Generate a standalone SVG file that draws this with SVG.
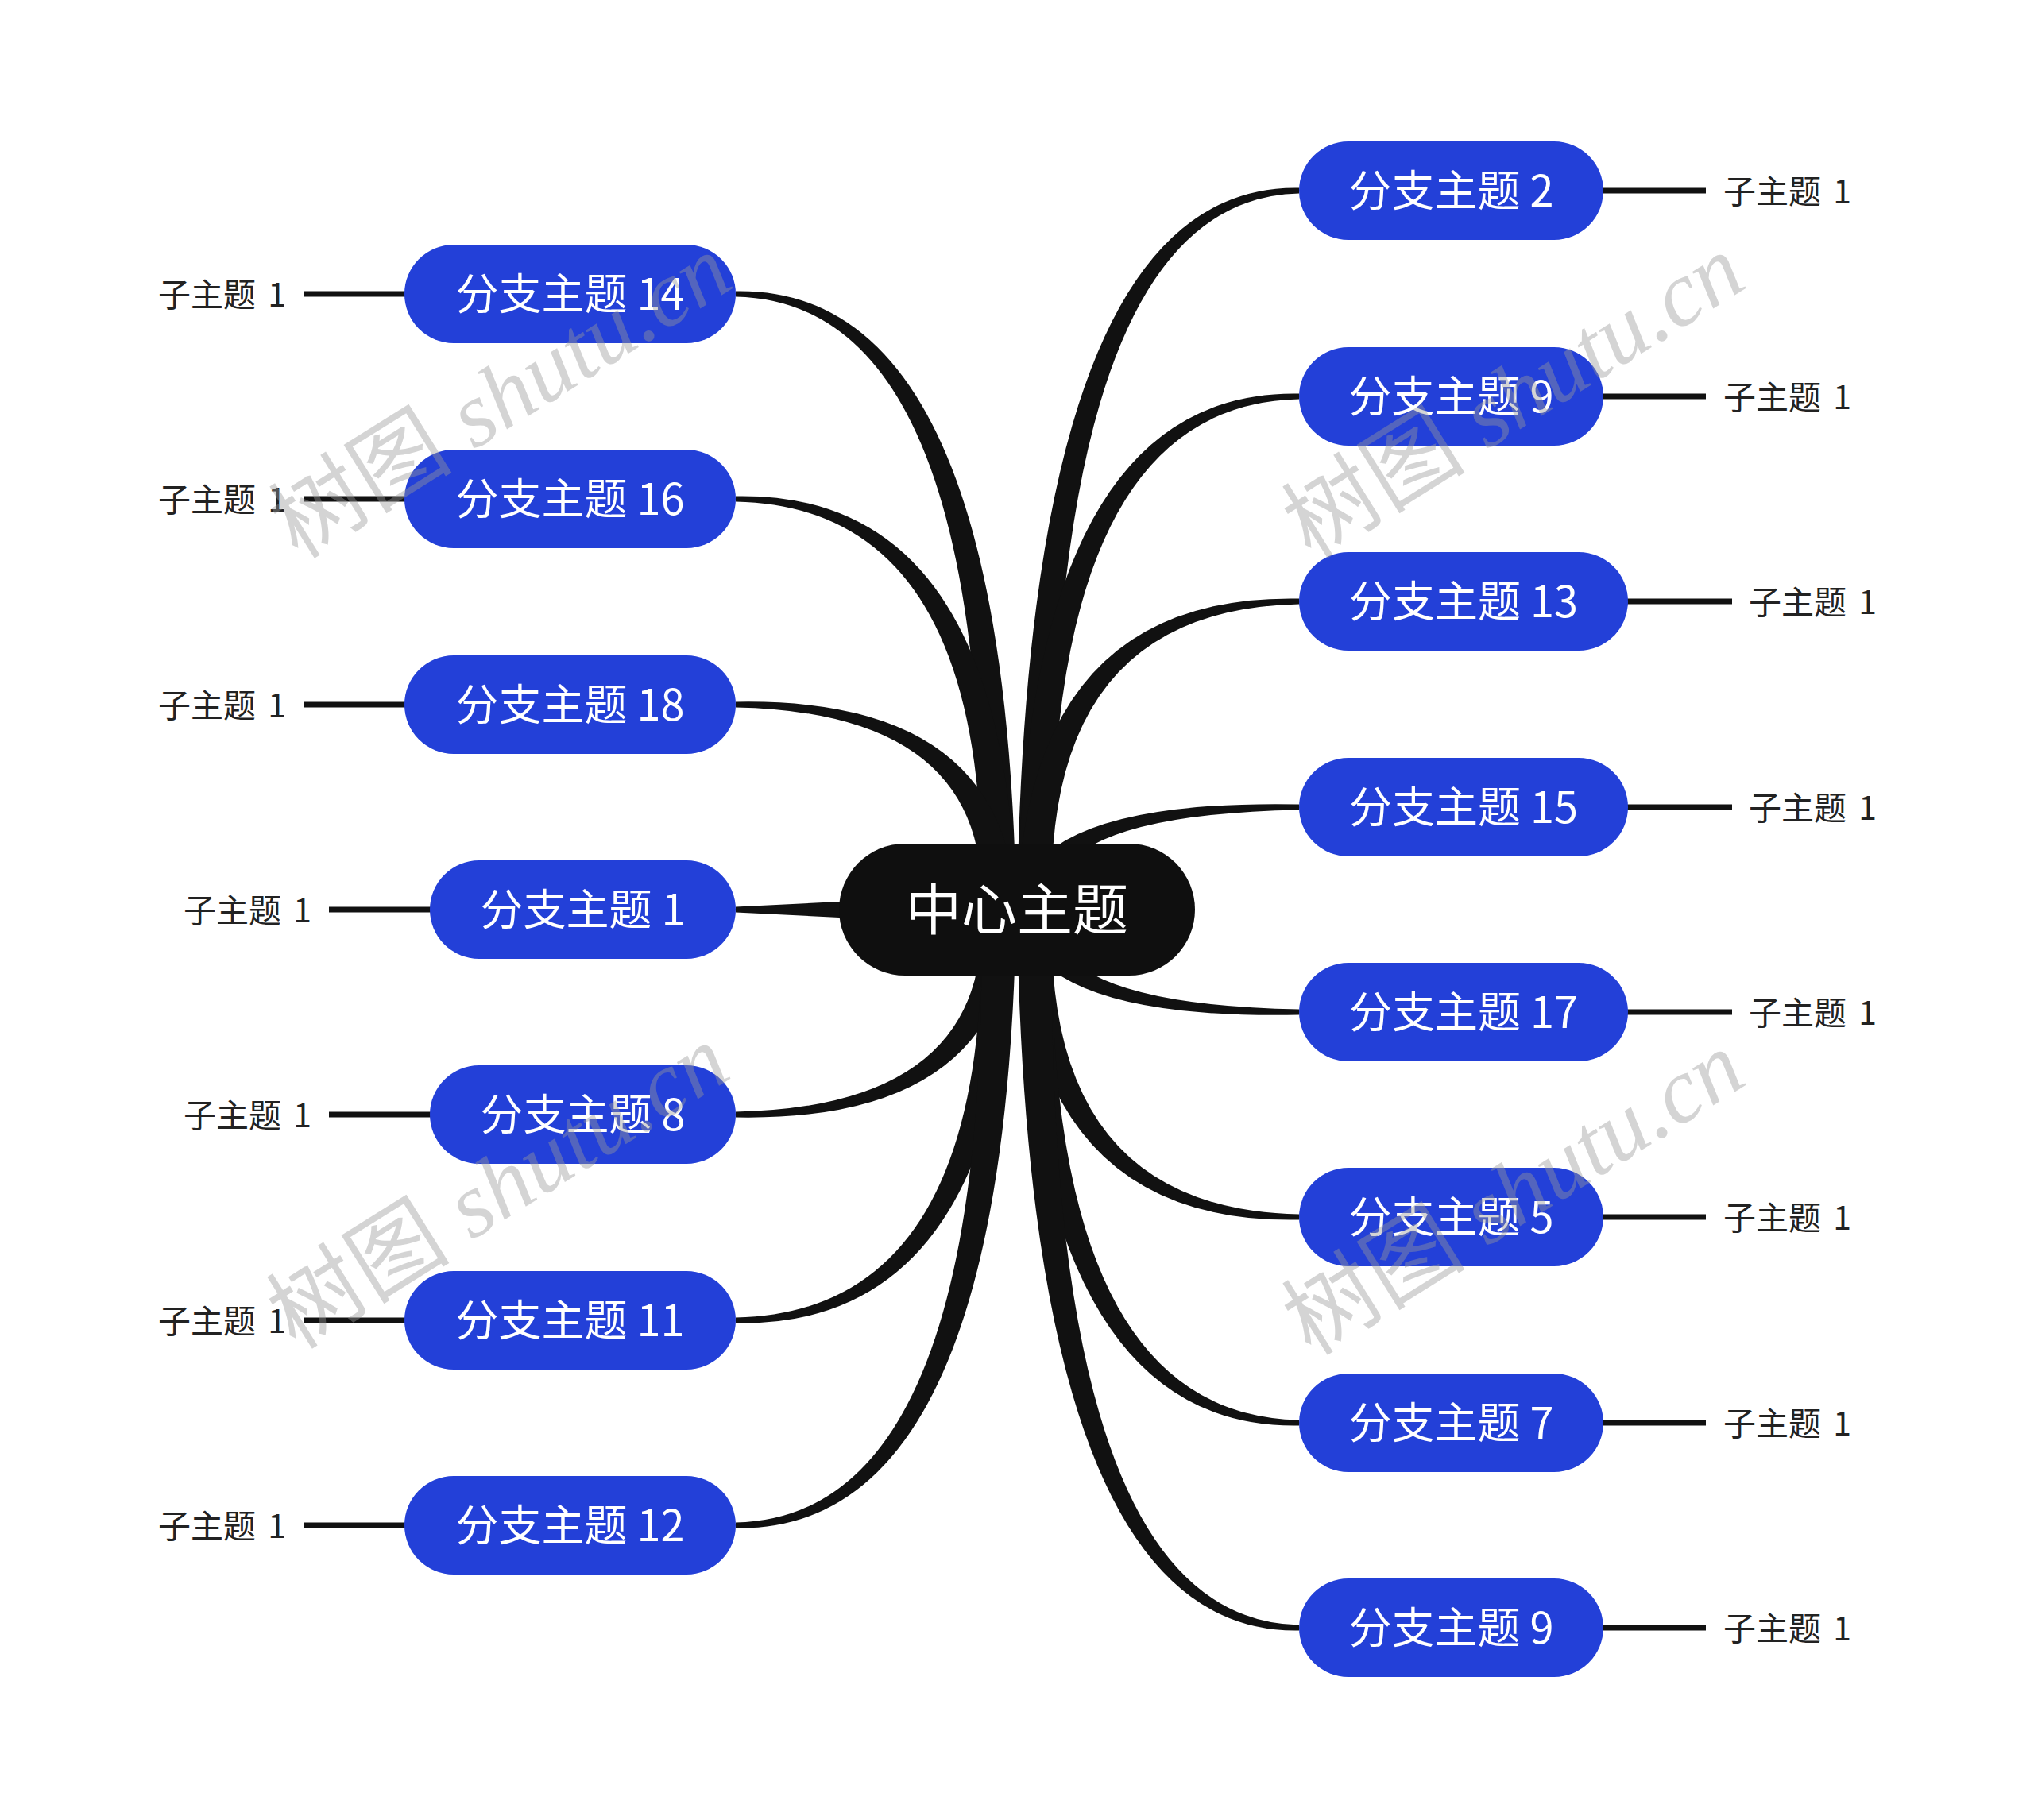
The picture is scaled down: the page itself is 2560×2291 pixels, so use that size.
<svg xmlns="http://www.w3.org/2000/svg" width="2560" height="2291" viewBox="0 0 2560 2291">
<style>
.br{fill:#111111}
.sl{stroke:#111111;stroke-width:7;fill:none}
.nb{fill:#2340d8}
.nt{fill:#ffffff;font-family:"Noto Sans CJK SC","Noto Sans",sans-serif;font-size:54px;text-anchor:middle}
.st{fill:#222222;font-family:"Noto Sans CJK SC","Noto Sans",sans-serif;font-size:41px}
.wm{fill:#999999;fill-opacity:0.42;font-family:"Liberation Serif","Noto Sans CJK SC",serif;font-size:116px}
.it{font-style:italic}
</style>
<rect width="2560" height="2291" fill="#ffffff"/>
<g id="connectors">
<path class="br" d="M1279,1145 Q1267,360 926,366.5 L926,373.5 Q1247,380 1235,1145Z"/>
<path class="br" d="M1279,1145 Q1267,618 926,624.5 L926,631.5 Q1247,638 1235,1145Z"/>
<path class="br" d="M1279,1145 Q1267,877 926,883.5 L926,890.5 Q1247,897 1235,1145Z"/>
<path class="br" d="M1257,1125 L926,1141.5 L926,1148.5 L1257,1165Z"/>
<path class="br" d="M1279,1145 Q1267,1413 926,1406.5 L926,1399.5 Q1247,1393 1235,1145Z"/>
<path class="br" d="M1279,1145 Q1267,1672 926,1665.5 L926,1658.5 Q1247,1652 1235,1145Z"/>
<path class="br" d="M1279,1145 Q1267,1930 926,1923.5 L926,1916.5 Q1247,1910 1235,1145Z"/>
<path class="br" d="M1280,1145 Q1292,230 1635,236.5 L1635,243.5 Q1312,250 1324,1145Z"/>
<path class="br" d="M1280,1145 Q1292,489 1635,495.5 L1635,502.5 Q1312,509 1324,1145Z"/>
<path class="br" d="M1280,1145 Q1292,747 1635,753.5 L1635,760.5 Q1312,767 1324,1145Z"/>
<path class="br" d="M1280,1145 Q1292,1006 1635,1012.5 L1635,1019.5 Q1312,1026 1324,1145Z"/>
<path class="br" d="M1280,1145 Q1292,1284 1635,1277.5 L1635,1270.5 Q1312,1264 1324,1145Z"/>
<path class="br" d="M1280,1145 Q1292,1542 1635,1535.5 L1635,1528.5 Q1312,1522 1324,1145Z"/>
<path class="br" d="M1280,1145 Q1292,1801 1635,1794.5 L1635,1787.5 Q1312,1781 1324,1145Z"/>
<path class="br" d="M1280,1145 Q1292,2059 1635,2052.5 L1635,2045.5 Q1312,2039 1324,1145Z"/>
<line class="sl" x1="382" y1="370" x2="512" y2="370"/>
<line class="sl" x1="382" y1="628" x2="512" y2="628"/>
<line class="sl" x1="382" y1="887" x2="512" y2="887"/>
<line class="sl" x1="414" y1="1145" x2="544" y2="1145"/>
<line class="sl" x1="414" y1="1403" x2="544" y2="1403"/>
<line class="sl" x1="382" y1="1662" x2="512" y2="1662"/>
<line class="sl" x1="382" y1="1920" x2="512" y2="1920"/>
<line class="sl" x1="2015" y1="240" x2="2147" y2="240"/>
<line class="sl" x1="2015" y1="499" x2="2147" y2="499"/>
<line class="sl" x1="2046" y1="757" x2="2180" y2="757"/>
<line class="sl" x1="2046" y1="1016" x2="2180" y2="1016"/>
<line class="sl" x1="2046" y1="1274" x2="2180" y2="1274"/>
<line class="sl" x1="2015" y1="1532" x2="2147" y2="1532"/>
<line class="sl" x1="2015" y1="1791" x2="2147" y2="1791"/>
<line class="sl" x1="2015" y1="2049" x2="2147" y2="2049"/>
</g>
<g id="center">
<rect x="1056" y="1062" width="448" height="166" rx="83" fill="#0f0f0f"/>
<text x="1280" y="1171" fill="#ffffff" font-family="'Noto Sans CJK SC','Noto Sans',sans-serif" font-size="70" text-anchor="middle">中心主题</text>
</g>
<g id="n14"><rect class="nb" x="509" y="308" width="417" height="124" rx="62"/><text class="nt" x="717.5" y="390">分支主题 14</text><text class="st" x="360" y="386" text-anchor="end">子主题 <tspan dx="6">1</tspan></text></g>
<g id="n16"><rect class="nb" x="509" y="566" width="417" height="124" rx="62"/><text class="nt" x="717.5" y="648">分支主题 16</text><text class="st" x="360" y="644" text-anchor="end">子主题 <tspan dx="6">1</tspan></text></g>
<g id="n18"><rect class="nb" x="509" y="825" width="417" height="124" rx="62"/><text class="nt" x="717.5" y="907">分支主题 18</text><text class="st" x="360" y="903" text-anchor="end">子主题 <tspan dx="6">1</tspan></text></g>
<g id="n1"><rect class="nb" x="541" y="1083" width="385" height="124" rx="62"/><text class="nt" x="733.5" y="1165">分支主题 1</text><text class="st" x="392" y="1161" text-anchor="end">子主题 <tspan dx="6">1</tspan></text></g>
<g id="n8"><rect class="nb" x="541" y="1341" width="385" height="124" rx="62"/><text class="nt" x="733.5" y="1423">分支主题 8</text><text class="st" x="392" y="1419" text-anchor="end">子主题 <tspan dx="6">1</tspan></text></g>
<g id="n11"><rect class="nb" x="509" y="1600" width="417" height="124" rx="62"/><text class="nt" x="717.5" y="1682">分支主题 11</text><text class="st" x="360" y="1678" text-anchor="end">子主题 <tspan dx="6">1</tspan></text></g>
<g id="n12"><rect class="nb" x="509" y="1858" width="417" height="124" rx="62"/><text class="nt" x="717.5" y="1940">分支主题 12</text><text class="st" x="360" y="1936" text-anchor="end">子主题 <tspan dx="6">1</tspan></text></g>
<g id="n2"><rect class="nb" x="1635" y="178" width="383" height="124" rx="62"/><text class="nt" x="1826.5" y="260">分支主题 2</text><text class="st" x="2169" y="256">子主题 <tspan dx="6">1</tspan></text></g>
<g id="n9a"><rect class="nb" x="1635" y="437" width="383" height="124" rx="62"/><text class="nt" x="1826.5" y="519">分支主题 9</text><text class="st" x="2169" y="515">子主题 <tspan dx="6">1</tspan></text></g>
<g id="n13"><rect class="nb" x="1635" y="695" width="414" height="124" rx="62"/><text class="nt" x="1842" y="777">分支主题 13</text><text class="st" x="2201" y="773">子主题 <tspan dx="6">1</tspan></text></g>
<g id="n15"><rect class="nb" x="1635" y="954" width="414" height="124" rx="62"/><text class="nt" x="1842" y="1036">分支主题 15</text><text class="st" x="2201" y="1032">子主题 <tspan dx="6">1</tspan></text></g>
<g id="n17"><rect class="nb" x="1635" y="1212" width="414" height="124" rx="62"/><text class="nt" x="1842" y="1294">分支主题 17</text><text class="st" x="2201" y="1290">子主题 <tspan dx="6">1</tspan></text></g>
<g id="n5"><rect class="nb" x="1635" y="1470" width="383" height="124" rx="62"/><text class="nt" x="1826.5" y="1552">分支主题 5</text><text class="st" x="2169" y="1548">子主题 <tspan dx="6">1</tspan></text></g>
<g id="n7"><rect class="nb" x="1635" y="1729" width="383" height="124" rx="62"/><text class="nt" x="1826.5" y="1811">分支主题 7</text><text class="st" x="2169" y="1807">子主题 <tspan dx="6">1</tspan></text></g>
<g id="n9b"><rect class="nb" x="1635" y="1987" width="383" height="124" rx="62"/><text class="nt" x="1826.5" y="2069">分支主题 9</text><text class="st" x="2169" y="2065">子主题 <tspan dx="6">1</tspan></text></g>
<g id="watermarks">
<text class="wm" x="375" y="705" transform="rotate(-32 375 705)">树图 <tspan class="it">shutu.cn</tspan></text>
<text class="wm" x="1650" y="705" transform="rotate(-32 1650 705)">树图 <tspan class="it">shutu.cn</tspan></text>
<text class="wm" x="372" y="1700" transform="rotate(-32 372 1700)">树图 <tspan class="it">shutu.cn</tspan></text>
<text class="wm" x="1650" y="1708" transform="rotate(-32 1650 1708)">树图 <tspan class="it">shutu.cn</tspan></text>
</g>
</svg>
